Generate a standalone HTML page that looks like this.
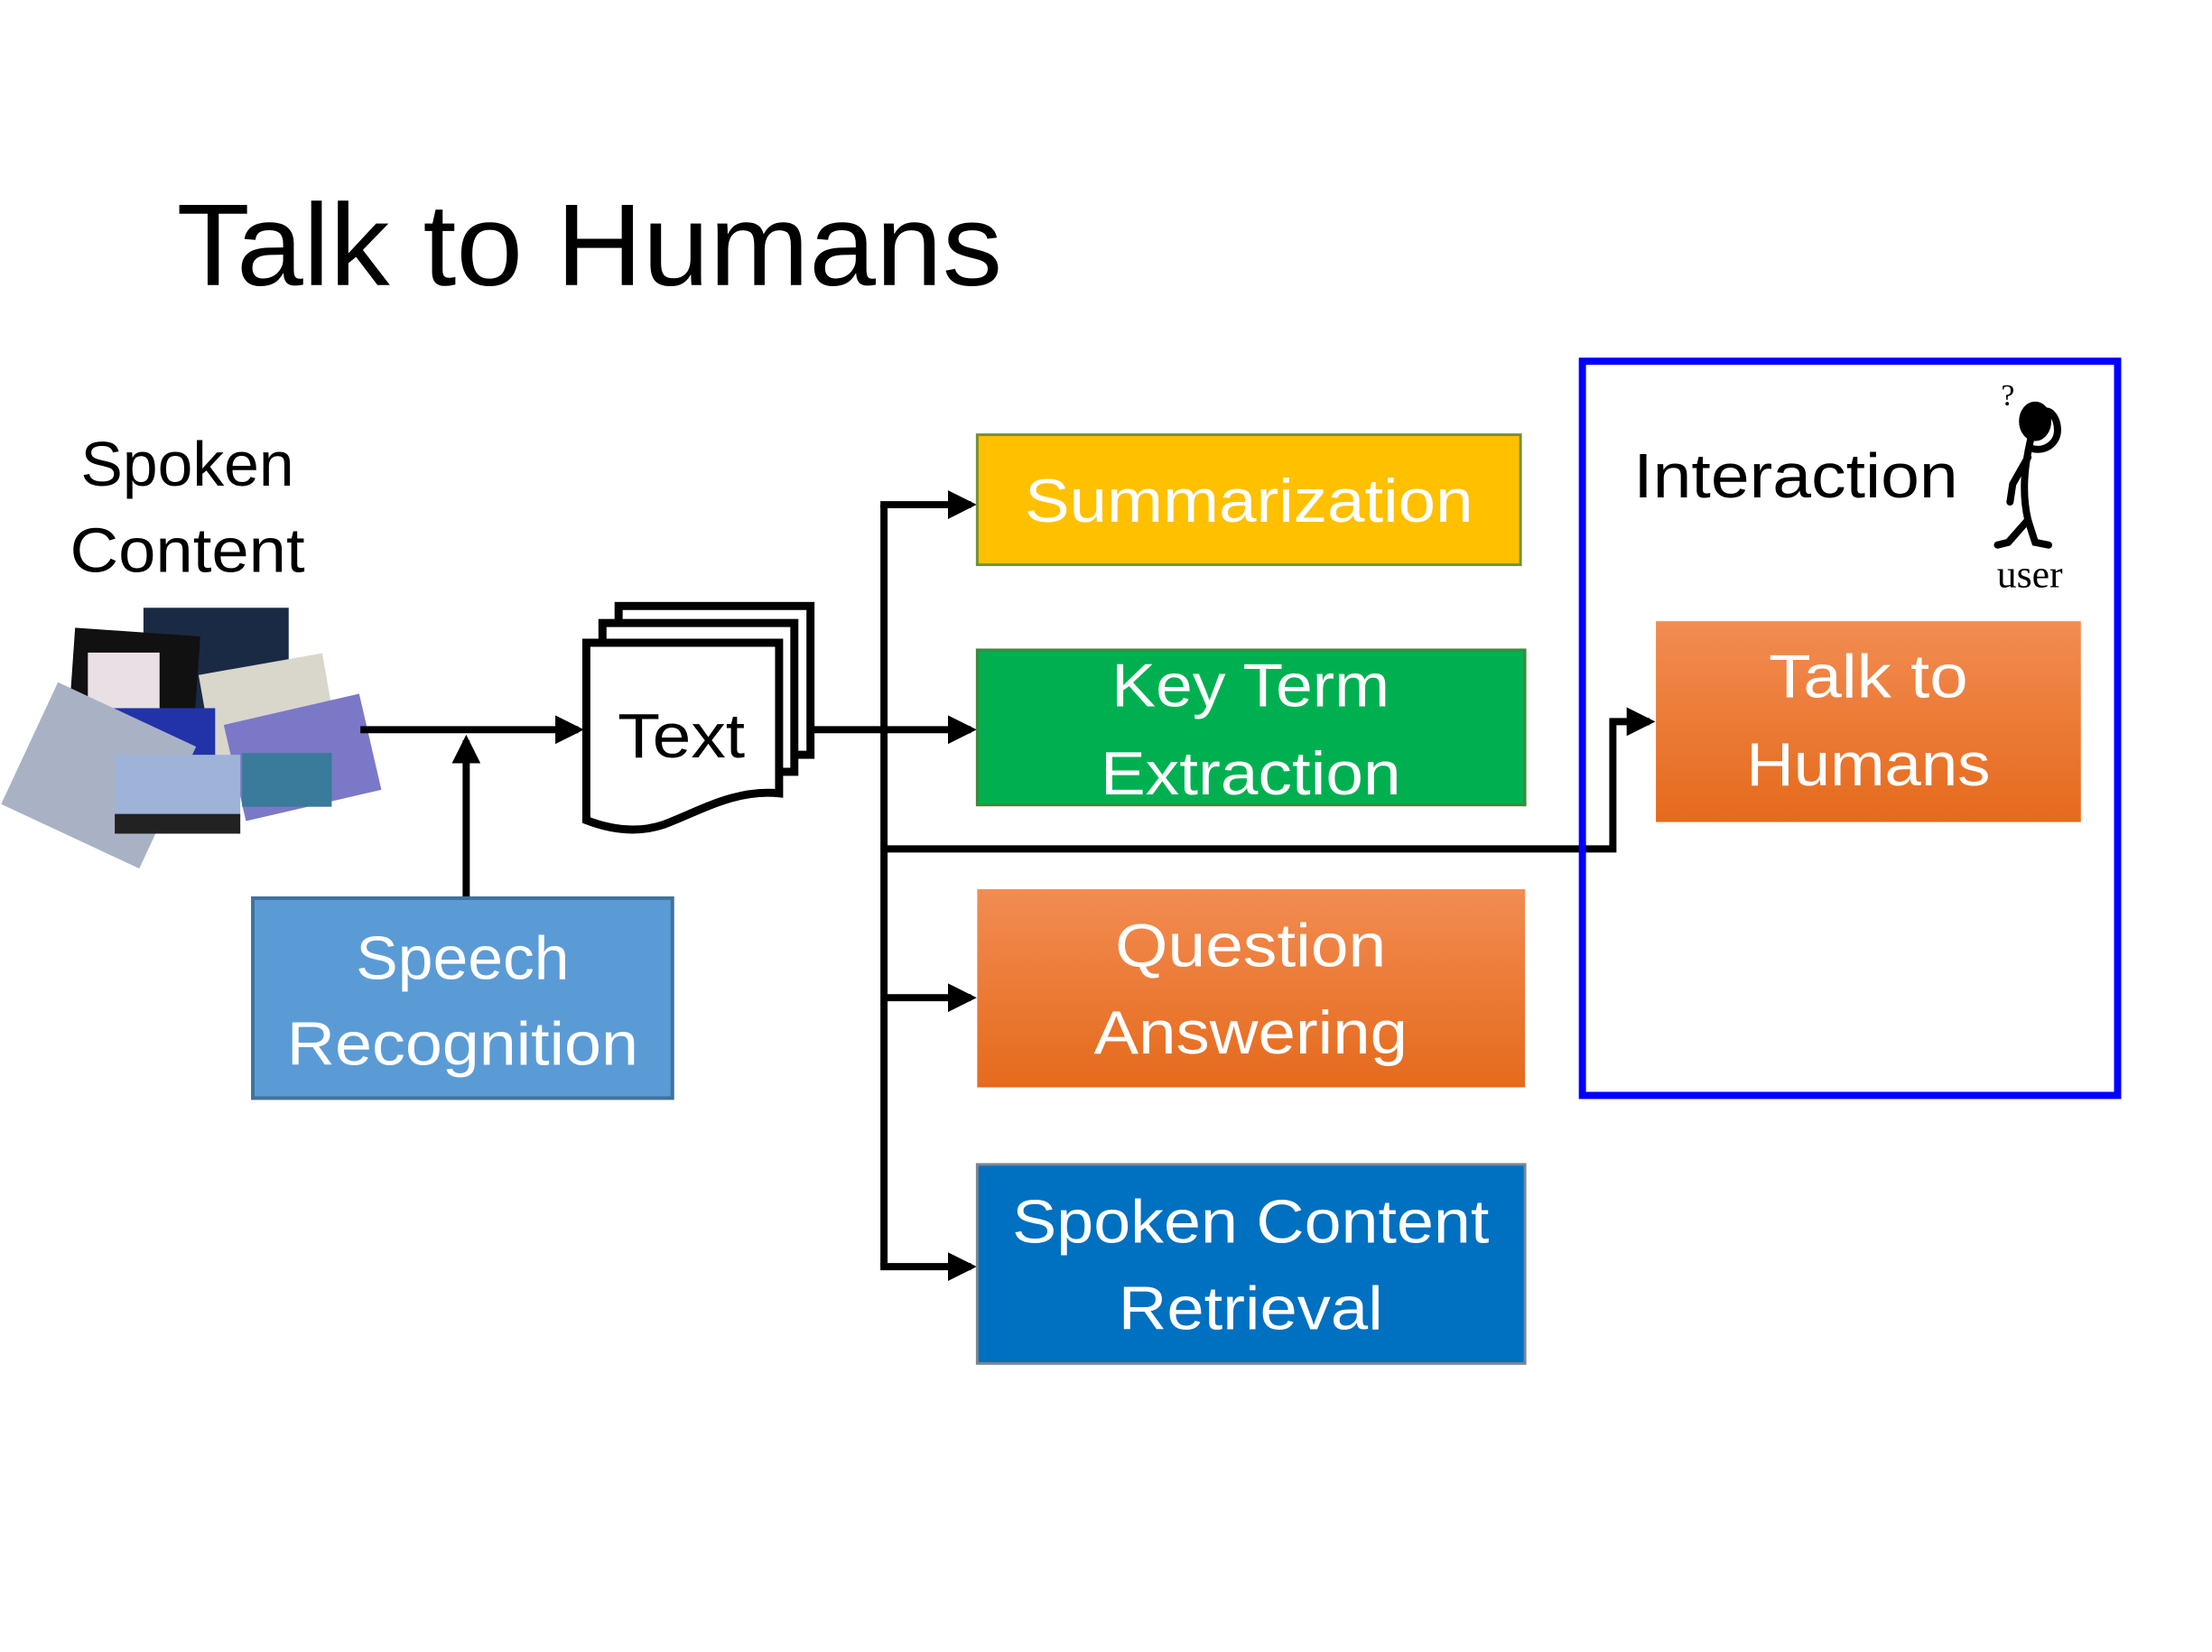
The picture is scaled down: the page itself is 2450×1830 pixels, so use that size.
<!DOCTYPE html>
<html><head><meta charset="utf-8"><style>html,body{margin:0;padding:0;background:#fff}svg{display:block}</style></head>
<body>
<svg width="2450" height="1830" viewBox="0 0 2450 1830" xmlns="http://www.w3.org/2000/svg" font-family="Liberation Sans, sans-serif">
<defs>
<linearGradient id="og" x1="0" y1="0" x2="0" y2="1"><stop offset="0" stop-color="#f28c52"/><stop offset="1" stop-color="#e56a1c"/></linearGradient>
<marker id="ah" markerWidth="4" markerHeight="4" refX="3.2" refY="2" orient="auto" markerUnits="strokeWidth"><path d="M0,0 L4,2 L0,4 z" fill="#000"/></marker>
</defs>
<g transform="scale(0.993)">
<text x="197" y="318" font-size="130" textLength="921" lengthAdjust="spacingAndGlyphs">Talk to Humans</text>
<text x="209" y="542" font-size="70" text-anchor="middle" textLength="238" lengthAdjust="spacingAndGlyphs">Spoken</text>
<text x="209" y="638" font-size="70" text-anchor="middle" textLength="262" lengthAdjust="spacingAndGlyphs">Content</text>
<g>
<rect x="160" y="678" width="162" height="128" fill="#1b2a44"/>
<rect x="80" y="705" width="140" height="105" fill="#111" transform="rotate(4 150 757)"/>
<rect x="98" y="728" width="80" height="65" fill="#e8e0e4"/>
<rect x="230" y="740" width="140" height="110" fill="#d9d6cc" transform="rotate(-10 300 795)"/>
<rect x="120" y="790" width="120" height="90" fill="#2233aa"/>
<rect x="25" y="790" width="170" height="150" fill="#a9b2c4" transform="rotate(25 110 865)"/>
<rect x="260" y="790" width="155" height="110" fill="#7b78c8" transform="rotate(-13 337 845)"/>
<rect x="270" y="840" width="100" height="60" fill="#3a7a9a"/>
<circle cx="165" cy="880" r="35" fill="#d9c8a0"/>
<rect x="128" y="842" width="140" height="88" fill="#9fb3d8"/>
<rect x="128" y="908" width="140" height="22" fill="#222"/>
</g>
<line x1="402" y1="814" x2="645" y2="814" stroke="#000" stroke-width="8" marker-end="url(#ah)"/>
<line x1="520" y1="1002" x2="520" y2="826" stroke="#000" stroke-width="8" marker-end="url(#ah)"/>
<rect x="282" y="1002" width="468" height="223" fill="#5b9bd5" stroke="#41719c" stroke-width="4"/>
<text x="516" y="1092" font-size="68" fill="#fff" text-anchor="middle" textLength="238" lengthAdjust="spacingAndGlyphs">Speech</text>
<text x="516" y="1188" font-size="68" fill="#fff" text-anchor="middle" textLength="392" lengthAdjust="spacingAndGlyphs">Recognition</text>
<g fill="#fff" stroke="#000" stroke-width="9">
<rect x="690" y="676" width="214" height="166"/>
<rect x="672" y="695" width="214" height="166"/>
<path d="M654,717 H869 V885 C820,880 780,905 740,920 C710,930 680,925 654,915 Z"/>
</g>
<text x="760" y="845" font-size="70" text-anchor="middle" textLength="142" lengthAdjust="spacingAndGlyphs">Text</text>
<line x1="904" y1="814" x2="1083" y2="814" stroke="#000" stroke-width="8" marker-end="url(#ah)"/>
<path d="M986,700 V563 M986,563 V1413" fill="none" stroke="#000" stroke-width="8"/>
<line x1="982" y1="563" x2="1083" y2="563" stroke="#000" stroke-width="8" marker-end="url(#ah)"/>
<line x1="986" y1="1113" x2="1083" y2="1113" stroke="#000" stroke-width="8" marker-end="url(#ah)"/>
<line x1="982" y1="1413" x2="1083" y2="1413" stroke="#000" stroke-width="8" marker-end="url(#ah)"/>
<path d="M986,947 H1799 V805 H1840" fill="none" stroke="#000" stroke-width="8" marker-end="url(#ah)"/>
<rect x="1090" y="485" width="606" height="145" fill="#ffc000" stroke="#70913a" stroke-width="3"/>
<text x="1393" y="582" font-size="68" fill="#fff" text-anchor="middle" textLength="500" lengthAdjust="spacingAndGlyphs">Summarization</text>
<rect x="1090" y="725" width="611" height="173" fill="#00b050" stroke="#3d8a3d" stroke-width="3"/>
<text x="1395" y="788" font-size="68" fill="#fff" text-anchor="middle" textLength="310" lengthAdjust="spacingAndGlyphs">Key Term</text>
<text x="1395" y="886" font-size="68" fill="#fff" text-anchor="middle" textLength="335" lengthAdjust="spacingAndGlyphs">Extraction</text>
<rect x="1090" y="992" width="611" height="221" fill="url(#og)"/>
<text x="1395" y="1078" font-size="68" fill="#fff" text-anchor="middle" textLength="302" lengthAdjust="spacingAndGlyphs">Question</text>
<text x="1395" y="1175" font-size="68" fill="#fff" text-anchor="middle" textLength="350" lengthAdjust="spacingAndGlyphs">Answering</text>
<rect x="1090" y="1299" width="611" height="222" fill="#0070c0" stroke="#7a8595" stroke-width="3"/>
<text x="1395" y="1386" font-size="68" fill="#fff" text-anchor="middle" textLength="532" lengthAdjust="spacingAndGlyphs">Spoken Content</text>
<text x="1395" y="1483" font-size="68" fill="#fff" text-anchor="middle" textLength="295" lengthAdjust="spacingAndGlyphs">Retrieval</text>
<rect x="1765" y="403" width="597" height="819" fill="none" stroke="#0000ff" stroke-width="8"/>
<text x="1822" y="555" font-size="70" textLength="362" lengthAdjust="spacingAndGlyphs">Interaction</text>
<text x="2264" y="655" font-size="44" font-family="Liberation Serif, serif" text-anchor="middle">user</text>
<text x="2232" y="452" font-size="34" font-family="Liberation Serif, serif">?</text>
<g stroke="#000" stroke-width="8" fill="none" stroke-linecap="round">
<ellipse cx="2270" cy="470" rx="14" ry="18" fill="#000"/>
<path d="M2265,490 C2258,520 2255,550 2262,580"/>
<path d="M2262,580 L2240,605 L2228,608"/>
<path d="M2262,580 L2270,605 L2285,608"/>
<path d="M2265,500 C2280,505 2295,495 2295,480 C2295,465 2285,455 2280,460"/>
<path d="M2262,510 L2245,540 L2242,560"/>
</g>
<rect x="1847" y="693" width="474" height="224" fill="url(#og)"/>
<text x="2084" y="778" font-size="68" fill="#fff" text-anchor="middle" textLength="222" lengthAdjust="spacingAndGlyphs">Talk to</text>
<text x="2084" y="876" font-size="68" fill="#fff" text-anchor="middle" textLength="272" lengthAdjust="spacingAndGlyphs">Humans</text>
</g>
</svg>
</body></html>
